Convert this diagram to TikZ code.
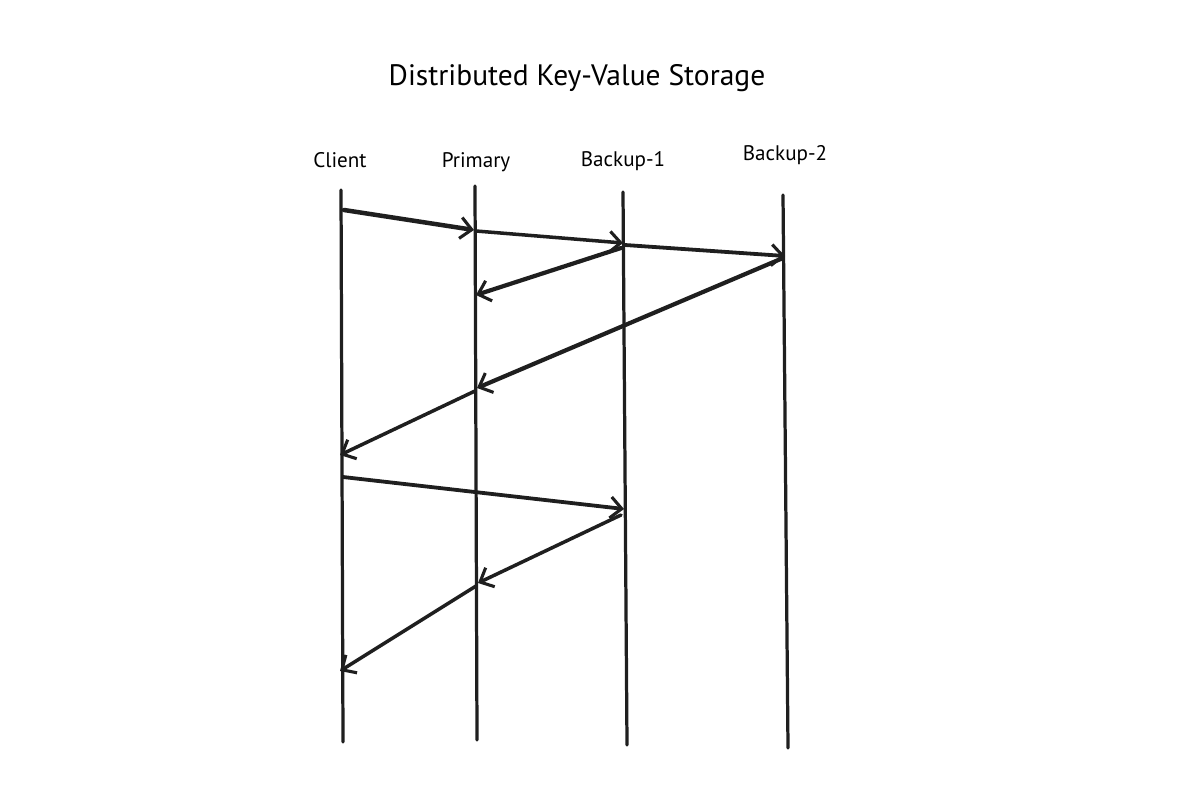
\documentclass[tikz,border=0pt]{standalone}
\usepackage{fontspec}
\setmainfont{PT Sans}
\usetikzlibrary{arrows.meta}
\begin{document}
\begin{tikzpicture}[x=0.025cm, y=-0.025cm, line cap=round,
		lifeline/.style={line width=2.3pt, color=black!88},
		msg/.style={line width=2.5pt, color=black!88, -{Straight Barb[length=8pt,width=15pt,line width=2.2pt]}},
		label/.style={font=\fontsize{15}{18}\selectfont}]
			\useasboundingbox (0,0) rectangle (1200,800);
			\node[font=\fontsize{21}{25}\selectfont] (title) at (577,78) {Distributed Key-Value Storage};
			%
			\node[label] (client)  at (340,160) {Client};
			\node[label] (primary) at (476,162) {Primary};
			\node[label] (backup1) at (623,161) {Backup-1};
			\node[label] (backup2) at (785,155) {Backup-2};
			%
			\coordinate (ctop) at (341,190);	\coordinate (cbot) at (343,742);
			\coordinate (ptop) at (475,186);	\coordinate (pbot) at (477,740);
			\coordinate (atop) at (623,192);	\coordinate (abot) at (627,745);
			\coordinate (btop) at (783,195);	\coordinate (bbot) at (788,748);
			\def\lifelines {ctop/cbot, ptop/pbot, atop/abot, btop/bbot}  % lifelines
			\foreach \u\v in \lifelines
			{	\draw[lifeline] (\u) -- (\v);
			}
			%
			\coordinate (c1) at (344,210);	\coordinate (p1) at (474,230);
			\coordinate (p2) at (476,231);	\coordinate (a1) at (623,243);
			\coordinate (a2) at (625,245);	\coordinate (b1) at (785,256);
			\coordinate (a3) at (621,248);	\coordinate (p3) at (476,295);
			\coordinate (b2) at (783,258);	\coordinate (p4) at (477,388);
			\coordinate (p5) at (475,391);	\coordinate (c2) at (340,455);
			\coordinate (c3) at (343,477);	\coordinate (a4) at (624,509);
			\coordinate (a5) at (621,515);	\coordinate (p6) at (478,583);
			\coordinate (p7) at (476,586);	\coordinate (c4) at (340,671);
			\def\messages {c1/p1/3.2, p2/a1/2.5, a2/b1/2.7, a3/p3/3, b2/p4/3, p5/c2/2.5, c3/a4/2.7, a5/p6/2.5, p7/c4/2.5}  % messages
			\foreach \u\v\w in \messages
			{	\draw[msg, line width=\w pt] (\u) -- (\v);
			}
			%
		\end{tikzpicture}
\end{document}
